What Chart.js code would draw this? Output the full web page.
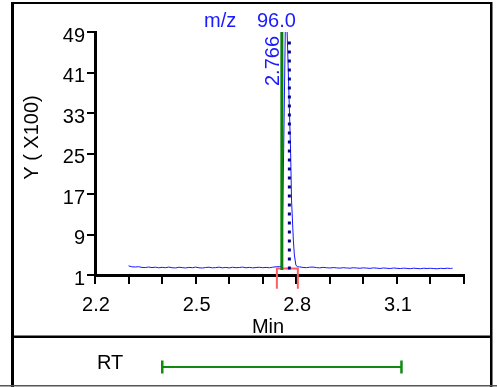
<!DOCTYPE html>
<html><head><meta charset="utf-8">
<script src="https://cdn.jsdelivr.net/npm/chart.js@4/dist/chart.umd.min.js"></script>
<style>html,body{margin:0;padding:0;background:#fff;}canvas{display:block;}</style>
</head><body>
<canvas id="c" width="497" height="387"></canvas>
<script>
// ---- data ----
const retentionTimes = [
  2.30,2.31,2.32,2.33,2.34,2.35,2.36,2.37,2.38,2.39,
  2.40,2.41,2.42,2.43,2.44,2.45,2.46,2.47,2.48,2.49,
  2.50,2.51,2.52,2.53,2.54,2.55,2.56,2.57,2.58,2.59,
  2.60,2.61,2.62,2.63,2.64,2.65,2.66,2.67,2.68,2.69,
  2.70,2.71,2.72,2.73,2.74,2.75,
  2.757,2.7625,2.7672,2.7698,2.7728,2.783,2.7859,2.7913,2.7943,2.7988,2.8032,
  2.81,2.82,2.83,2.84,2.85,2.86,2.87,2.88,2.89,2.90,
  2.91,2.92,2.93,2.94,2.95,2.96,2.97,2.98,2.99,3.00,
  3.01,3.02,3.03,3.04,3.05,3.06,3.07,3.08,3.09,3.10,
  3.11,3.12,3.13,3.14,3.15,3.16,3.17,3.18,3.19,3.20,
  3.21,3.22,3.23,3.24,3.25,3.26,3.266
];
const abundance = [
  2.80,2.62,2.58,2.64,2.50,2.47,2.58,2.46,2.55,2.42,
  2.52,2.44,2.57,2.43,2.40,2.53,2.46,2.39,2.51,2.44,
  2.56,2.42,2.38,2.48,2.54,2.41,2.46,2.55,2.42,2.50,
  2.40,2.53,2.44,2.48,2.56,2.42,2.51,2.41,2.48,2.53,
  2.44,2.50,2.43,2.55,2.62,2.66,
  2.70,26.0,49.0,49.4,49.0,25.7,15.8,7.9,4.95,2.98,2.62,
  2.60,2.50,2.45,2.54,2.57,2.46,2.41,2.51,2.44,2.38,
  2.47,2.41,2.36,2.45,2.39,2.34,2.44,2.38,2.33,2.42,
  2.36,2.31,2.41,2.35,2.29,2.39,2.33,2.28,2.38,2.32,
  2.27,2.36,2.30,2.25,2.35,2.29,2.24,2.34,2.28,2.33,
  2.27,2.23,2.32,2.27,2.34,2.29,2.35
];
const xTickValues = [2.2,2.3,2.4,2.5,2.6,2.7,2.8,2.9,3.0,3.1,3.2,3.3];
const xTickLabels = ['2.2','','','2.5','','','2.8','','','3.1','',''];
const yTickValues = [1,9,17,25,33,41,49];
const yTickLabels = ['1','9','17','25','33','41','49'];
const rtMarkerTime = 2.757;
const rtMarkerLabel = '2.766';
const rtMarkerSpan = [2.0, 49];
const dotLineTime = 2.7794;
const dotLineSpan = [2.1, 47.8];
const integrationTimes = [2.7422, 2.7422, 2.8047, 2.8047];
const integrationValues = [-1.7, 2.3, 2.3, -1.7];
const rtWindow = [2.4005, 3.1136];
const mzLabel = 'm/z';
const mzValue = '96.0';
const xTitle = 'Min';
const yTitle = 'Y ( X100)';
const panelLabel = 'RT';

const FONT = '"Liberation Sans", Arial, sans-serif';
const pts = (xs, ys) => xs.map((x, i) => ({x, y: ys[i]}));

const decor = {
  id: 'decor',
  afterDraw(chart) {
    const ctx = chart.ctx, xs = chart.scales.x;
    ctx.save();
    // frame
    ctx.fillStyle = '#000';
    ctx.fillRect(11, 2, 3, 385);
    ctx.fillRect(490, 2, 2.5, 385);
    ctx.fillRect(11, 2, 481, 2);
    ctx.fillRect(11, 335.5, 481, 2.5);
    ctx.fillStyle = '#555';
    ctx.fillRect(0, 385, 497, 1.5);
    // blue header
    ctx.font = '20px ' + FONT;
    ctx.fillStyle = '#1a1aff';
    ctx.textBaseline = 'alphabetic';
    ctx.textAlign = 'left';
    ctx.fillText(mzLabel, 204, 27);
    ctx.fillText(mzValue, 257, 27);
    ctx.save();
    ctx.translate(xs.getPixelForValue(rtMarkerTime) - 2.5, 86);
    ctx.rotate(-Math.PI / 2);
    ctx.fillText(rtMarkerLabel, 0, 0);
    ctx.restore();
    // axis titles
    ctx.fillStyle = '#000';
    ctx.save();
    ctx.translate(37.5, 137.5);
    ctx.rotate(-Math.PI / 2);
    ctx.textAlign = 'center';
    ctx.fillText(yTitle, 0, 0);
    ctx.restore();
    ctx.textAlign = 'center';
    ctx.fillText(xTitle, 268, 333);
    ctx.textAlign = 'left';
    ctx.fillText(panelLabel, 97, 369);
    // RT window bar
    const a = xs.getPixelForValue(rtWindow[0]), b = xs.getPixelForValue(rtWindow[1]);
    ctx.strokeStyle = '#128a12';
    ctx.lineWidth = 2;
    ctx.beginPath();
    ctx.moveTo(a, 367); ctx.lineTo(b, 367);
    ctx.stroke();
    ctx.lineWidth = 2.5;
    ctx.beginPath();
    ctx.moveTo(a, 360.5); ctx.lineTo(a, 373.5);
    ctx.moveTo(b, 360.5); ctx.lineTo(b, 373.5);
    ctx.stroke();
    ctx.restore();
  }
};

new Chart(document.getElementById('c'), {
  type: 'line',
  data: {
    datasets: [
      { data: pts([rtMarkerTime, rtMarkerTime], rtMarkerSpan), borderColor: '#0b7f0b', borderWidth: 3, pointRadius: 0 },
      { data: pts([dotLineTime, dotLineTime], dotLineSpan), borderColor: '#00008b', borderWidth: 3, borderDash: [3, 6], pointRadius: 0 },
      { data: pts(integrationTimes, integrationValues), borderColor: '#ff5e5e', borderWidth: 2, pointRadius: 0, clip: false },
      { data: pts(retentionTimes, abundance), borderColor: '#1616ff', borderWidth: 1, pointRadius: 0, tension: 0 }
    ]
  },
  options: {
    responsive: false,
    animation: false,
    devicePixelRatio: 1,
    layout: { padding: { left: 0, top: 32, right: 33, bottom: 0 } },
    plugins: { legend: { display: false }, tooltip: { enabled: false } },
    scales: {
      x: {
        type: 'linear', min: 2.2, max: 3.3,
        afterBuildTicks: s => { s.ticks = xTickValues.map(v => ({ value: v })); },
        afterFit: s => { s.height = 112; },
        ticks: { callback: (v, i) => xTickLabels[i] ?? '', autoSkip: false, maxRotation: 0, minRotation: 0,
                 color: '#000', font: { family: FONT, size: 20 }, padding: 9, labelOffset: 1 },
        grid: { drawOnChartArea: false, drawTicks: true, tickLength: 9, color: '#000', lineWidth: 2 },
        border: { display: true, color: '#000', width: 3 }
      },
      y: {
        type: 'linear', min: 1, max: 49,
        afterBuildTicks: s => { s.ticks = yTickValues.map(v => ({ value: v })); },
        afterFit: s => { s.width = 95; },
        ticks: { callback: (v, i) => yTickLabels[i] ?? '', autoSkip: false, color: '#000',
                 font: { family: FONT, size: 20 }, padding: 2, labelOffset: 4 },
        grid: { drawOnChartArea: false, drawTicks: true, tickLength: 8, color: '#000', lineWidth: 2 },
        border: { display: true, color: '#000', width: 3 }
      }
    }
  },
  plugins: [decor]
});
</script>
</body></html>
